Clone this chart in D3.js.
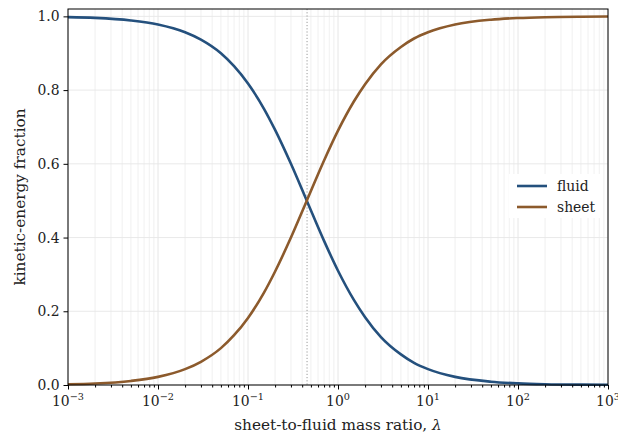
<!DOCTYPE html>
<html><head><meta charset="utf-8">
<script src="https://cdn.jsdelivr.net/npm/d3@7"></script>
<style>body{margin:0;background:#fff}svg{display:block}text{font-family:"DejaVu Serif",serif}</style>
</head><body><svg id="c" width="618" height="434"></svg>
<script>
const lambdas = [0.001,0.002,0.005,0.01,0.02,0.03,0.05,0.07,0.1,0.15,0.2,0.3,0.45,0.7,1,1.5,2,3,5,7,10,20,50,100,200,500,1000];
const fluid = [0.998,0.996,0.989,0.978,0.957,0.937,0.900,0.865,0.818,0.750,0.692,0.600,0.500,0.391,0.310,0.231,0.184,0.130,0.083,0.060,0.043,0.022,0.009,0.0045,0.0022,0.0009,0.0005];
const sheet = [0.002,0.004,0.011,0.022,0.043,0.063,0.100,0.135,0.182,0.250,0.308,0.400,0.500,0.609,0.690,0.769,0.816,0.870,0.917,0.940,0.957,0.978,0.991,0.9955,0.9978,0.9991,0.9995];
const crossLambda = 0.453;
const seriesNames = ["fluid","sheet"];
const colors = ["#24507d","#8c5a2c"];
const yTicks = [0,0.2,0.4,0.6,0.8,1.0];
const xExps = [-3,-2,-1,0,1,2,3];

const svg = d3.select("#c");
const L=68,R=608,T=9,B=385;
const x = d3.scaleLog().domain([1e-3,1e3]).range([L,R]);
const y = d3.scaleLinear().domain([0,1.02]).range([B,T]);

// grid
const minor=[];
for(let e=-3;e<3;e++) for(let k=2;k<10;k++) minor.push(k*Math.pow(10,e));
const g=svg.append("g");
g.selectAll(".mn").data(minor).enter().append("line")
 .attr("x1",d=>x(d)).attr("x2",d=>x(d)).attr("y1",T).attr("y2",B)
 .attr("stroke","#e6e6e6").attr("stroke-width",0.6);
g.selectAll(".mj").data(xExps).enter().append("line")
 .attr("x1",d=>x(Math.pow(10,d))).attr("x2",d=>x(Math.pow(10,d))).attr("y1",T).attr("y2",B)
 .attr("stroke","#e3e3e3").attr("stroke-width",0.9);
g.selectAll(".hy").data(yTicks).enter().append("line")
 .attr("x1",L).attr("x2",R).attr("y1",d=>y(d)).attr("y2",d=>y(d))
 .attr("stroke","#e6e6e6").attr("stroke-width",0.9);

// dotted vertical
svg.append("line").attr("x1",x(crossLambda)).attr("x2",x(crossLambda)).attr("y1",T).attr("y2",B)
 .attr("stroke","#999").attr("stroke-width",1).attr("stroke-dasharray","1.2,2");

// lines
const data=[fluid,sheet];
data.forEach((arr,i)=>{
  const line=d3.line().x((d,j)=>x(lambdas[j])).y(d=>y(d)).curve(d3.curveMonotoneX);
  svg.append("path").datum(arr).attr("d",line).attr("fill","none")
   .attr("stroke",colors[i]).attr("stroke-width",2.6);
});

// frame
svg.append("rect").attr("x",L).attr("y",T).attr("width",R-L).attr("height",B-T)
 .attr("fill","none").attr("stroke","#000").attr("stroke-width",1);

// y axis
const ya=svg.append("g").attr("transform",`translate(${L},0)`)
 .call(d3.axisLeft(y).tickValues(yTicks).tickFormat(d3.format(".1f")).tickSize(4.5).tickPadding(4));
ya.select(".domain").remove();
ya.selectAll("text").attr("font-size","13.9px").attr("font-family","DejaVu Serif").attr("fill","#222");

// x axis
const xa=svg.append("g").attr("transform",`translate(0,${B})`)
 .call(d3.axisBottom(x).tickValues(xExps.map(e=>Math.pow(10,e))).tickFormat("").tickSize(4.5));
xa.select(".domain").remove();
svg.append("g").attr("transform",`translate(0,${B})`)
 .call(d3.axisBottom(x).tickValues(minor).tickFormat("").tickSize(2.5))
 .select(".domain").remove();
xExps.forEach(e=>{
  const t=svg.append("text").attr("x",x(Math.pow(10,e))).attr("y",B+21)
   .attr("text-anchor","middle").attr("font-size","13.9px").attr("fill","#222");
  t.append("tspan").text("10");
  t.append("tspan").attr("dy",-6).attr("font-size","9.7px").text(e<0?"\u2212"+(-e):String(e));
});

// axis labels
svg.append("text").attr("x",(L+R)/2).attr("y",430).attr("text-anchor","middle")
 .attr("font-size","15.3px").attr("fill","#222")
 .html('sheet-to-fluid mass ratio, <tspan font-style="italic">λ</tspan>');
svg.append("text").attr("transform",`translate(25,${(T+B)/2}) rotate(-90)`)
 .attr("text-anchor","middle").attr("font-size","15.3px").attr("fill","#222")
 .text("kinetic-energy fraction");

// legend
const lg=svg.append("g");
lg.append("rect").attr("x",509).attr("y",174).attr("width",94).attr("height",44).attr("fill","#fff");
seriesNames.forEach((n,i)=>{
  const yy=186+i*21;
  lg.append("line").attr("x1",517).attr("x2",547).attr("y1",yy).attr("y2",yy)
   .attr("stroke",colors[i]).attr("stroke-width",2.6);
  lg.append("text").attr("x",557).attr("y",yy+5).attr("font-size","13.9px").attr("fill","#222").text(n);
});
</script></body></html>
